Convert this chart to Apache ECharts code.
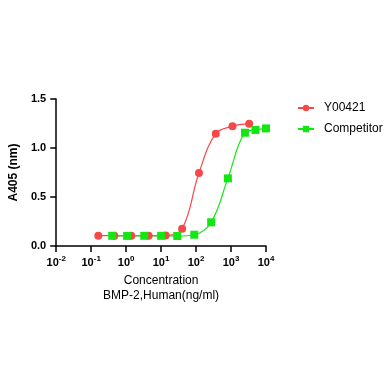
<!DOCTYPE html>
<html><head><meta charset="utf-8">
<script src="https://cdn.jsdelivr.net/npm/echarts@6/dist/echarts.min.js"></script>
<style>html,body{margin:0;padding:0;background:#fff}#c{width:392px;height:392px}</style>
</head><body><div id="c"></div>
<script>
var seriesNames = ['Y00421', 'Competitor'];
var redConc = [0.16, 0.46, 1.4, 4.4, 13.5, 40, 121, 366, 1100, 3300];
var redA405 = [0.105, 0.105, 0.104, 0.105, 0.106, 0.177, 0.745, 1.146, 1.221, 1.248];
var greenConc = [0.4, 1.07, 3.3, 10, 29, 89, 270, 813, 2500, 5000, 10000];
var greenA405 = [0.104, 0.103, 0.104, 0.104, 0.102, 0.115, 0.242, 0.69, 1.156, 1.184, 1.2];
var yTicks = [0, 0.5, 1.0, 1.5];
var xTickExps = [-2, -1, 0, 1, 2, 3, 4];

function pairs(xs, ys){ return xs.map(function(x,i){ return [x, ys[i]]; }); }
var chart = echarts.init(document.getElementById('c'));
var font = 'Arial, "Liberation Sans", sans-serif';
chart.setOption({
  animation: false,
  grid: { left: 52, top: 99, width: 214, height: 147, containLabel: false },
  legend: {
    orient: 'vertical', left: 297, top: 102, padding: 0, itemGap: 9, itemWidth: 16, itemHeight: 8,
    textStyle: { fontFamily: font, fontSize: 12, color: '#000', padding: [0, 0, 0, 5] },
    data: seriesNames
  },
  xAxis: {
    type: 'log', logBase: 10, min: Math.pow(10, xTickExps[0]), max: Math.pow(10, xTickExps[xTickExps.length-1]),
    name: 'Concentration\nBMP-2,Human(ng/ml)', nameLocation: 'middle', nameGap: 27,
    nameTextStyle: { fontFamily: font, fontSize: 12, color: '#000', lineHeight: 15 },
    axisLine: { lineStyle: { color: '#000', width: 1.5 } },
    axisTick: { show: true, length: 6, lineStyle: { color: '#000', width: 1.5 } },
    minorTick: { show: false }, splitLine: { show: false },
    axisLabel: {
      margin: 9, fontFamily: font, fontWeight: 'bold', fontSize: 11, color: '#000',
      formatter: function(v){ var e = Math.round(Math.log10(v)); return '{b|10}{s|' + e + '}'; },
      rich: { b: { fontFamily: font, fontWeight: 'bold', fontSize: 11, color: '#000' },
              s: { fontFamily: font, fontWeight: 'bold', fontSize: 8, color: '#000', verticalAlign: 'bottom', padding: [0,0,7,0] } }
    }
  },
  yAxis: {
    type: 'value', min: yTicks[0], max: yTicks[yTicks.length-1], interval: 0.5,
    name: 'A405 (nm)', nameLocation: 'middle', nameGap: 33, nameRotate: 90,
    nameTextStyle: { fontFamily: font, fontSize: 12, fontWeight: 'bold', color: '#000' },
    axisLine: { show: true, lineStyle: { color: '#000', width: 1.5 } },
    axisTick: { show: true, length: 6, lineStyle: { color: '#000', width: 1.5 } },
    splitLine: { show: false },
    axisLabel: { margin: 10, fontFamily: font, fontWeight: 'bold', fontSize: 11, color: '#000',
      formatter: function(v){ return v.toFixed(1); } }
  },
  series: [
    { name: seriesNames[0], type: 'line', smooth: 0.4, data: pairs(redConc, redA405),
      symbol: 'circle', symbolSize: 8, itemStyle: { color: '#f54848' },
      lineStyle: { color: '#f54848', width: 1.2 } },
    { name: seriesNames[1], type: 'line', smooth: 0.4, data: pairs(greenConc, greenA405),
      symbol: 'rect', symbolSize: 8, itemStyle: { color: '#14e614' },
      lineStyle: { color: '#14e614', width: 1.2 } }
  ]
});
</script></body></html>
